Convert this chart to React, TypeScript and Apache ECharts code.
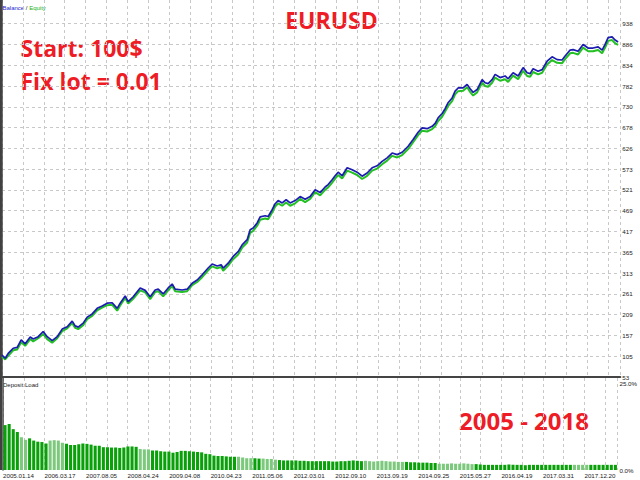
import React, { useEffect, useRef } from 'react';
import * as echarts from 'echarts';

// trade number (x) of each read point of the balance / equity curves
const trades = [
  0, 16, 31, 56, 76, 96, 116, 141, 156, 181,
  206, 226, 251, 276, 301, 326, 351, 366, 381, 406,
  426, 451, 476, 501, 526, 551, 576, 591, 616, 631,
  656, 691, 716, 741, 766, 781, 806, 831, 851, 866,
  901, 926, 951, 976, 1001, 1031, 1051, 1076, 1096, 1106,
  1131, 1156, 1181, 1201, 1226, 1241, 1256, 1276, 1291, 1316,
  1331, 1351, 1366, 1381, 1401, 1421, 1441, 1466, 1491, 1516,
  1541, 1566, 1591, 1616, 1631, 1651, 1666, 1681, 1701, 1726,
  1751, 1776, 1801, 1826, 1851, 1876, 1901, 1926, 1951, 1976,
  2001, 2031, 2056, 2081, 2101, 2126, 2151, 2166, 2181, 2201,
  2216, 2231, 2251, 2266, 2281, 2306, 2326, 2341, 2356, 2376,
  2401, 2416, 2431, 2451, 2466, 2491, 2516, 2531, 2556, 2581,
  2606, 2626, 2641, 2656, 2681, 2701, 2726, 2751, 2776, 2801,
  2816, 2841, 2856, 2881, 2906, 2931, 2956, 2981, 3001, 3016,
  3031, 3051, 3066, 3081,
];

const balance = [
  108, 100, 112, 125, 127, 146, 136, 153, 148, 154,
  167, 154, 144, 154, 173, 179, 193, 181, 178, 188,
  203, 211, 225, 231, 238, 239, 225, 238, 256, 242,
  254, 276, 270, 254, 271, 273, 261, 276, 286, 273,
  271, 273, 288, 296, 309, 326, 336, 331, 334, 326,
  338, 355, 367, 384, 397, 422, 426, 439, 454, 457,
  455, 472, 487, 495, 489, 497, 489, 495, 505, 498,
  505, 522, 515, 529, 535, 547, 557, 566, 557, 577,
  572, 566, 556, 564, 577, 582, 593, 602, 614, 610,
  616, 631, 648, 666, 677, 675, 681, 688, 702, 713,
  725, 740, 752, 769, 777, 777, 786, 775, 766, 773,
  798, 790, 788, 798, 811, 803, 807, 800, 815, 807,
  828, 815, 813, 825, 819, 823, 844, 855, 848, 847,
  857, 872, 873, 869, 886, 877, 877, 880, 872, 886,
  903, 905, 897, 892,
];

const equity = [
  104, 97, 106, 120, 122, 140, 131, 148, 142, 150,
  161, 148, 139, 150, 168, 175, 188, 176, 173, 183,
  198, 206, 220, 227, 233, 234, 219, 232, 251, 237,
  249, 270, 265, 248, 266, 268, 255, 270, 281, 268,
  266, 268, 283, 291, 303, 320, 330, 325, 329, 319,
  332, 348, 360, 377, 390, 414, 419, 432, 447, 450,
  448, 465, 480, 488, 482, 490, 482, 488, 499, 491,
  499, 516, 508, 522, 528, 540, 550, 559, 550, 570,
  565, 559, 549, 557, 570, 575, 586, 595, 607, 603,
  609, 624, 641, 659, 670, 668, 674, 681, 694, 705,
  718, 732, 744, 761, 769, 770, 779, 767, 758, 766,
  790, 782, 780, 790, 803, 795, 799, 792, 808, 799,
  820, 807, 805, 817, 811, 815, 836, 847, 840, 839,
  849, 864, 865, 861, 878, 869, 869, 872, 864, 878,
  895, 897, 889, 885,
];

// deposit load, % (one bar each)
const depositLoad = [
  12.2, 12.5, 11.1, 10.3, 8.9, 8.2, 8.6, 8.0, 7.7, 7.6,
  7.2, 8.0, 8.1, 8.0, 7.4, 7.1, 6.8, 6.8, 7.0, 7.2,
  7.1, 6.9, 6.6, 6.6, 6.2, 6.2, 6.1, 6.1, 6.0, 6.1,
  6.4, 6.4, 6.3, 5.7, 5.6, 5.6, 5.3, 5.3, 5.1, 5.0,
  5.0, 4.7, 4.9, 5.2, 5.2, 5.1, 5.0, 4.9, 4.8, 4.4,
  4.3, 3.9, 3.8, 3.8, 3.7, 3.6, 3.6, 3.6, 3.4, 3.2,
  3.2, 3.2, 3.1, 3.1, 3.0, 3.0, 2.8, 2.7, 2.6, 2.6,
  2.6, 2.6, 2.5, 2.5, 2.4, 2.4, 2.4, 2.4, 2.4, 2.4,
  2.3, 2.3, 2.4, 2.4, 2.5, 2.6, 2.5, 2.4, 2.5, 2.4,
  2.3, 2.4, 2.5, 2.4, 2.3, 2.3, 2.2, 2.2, 2.2, 2.1,
  2.1, 2.0, 2.0, 2.0, 1.9, 1.9, 1.7, 1.7, 1.7, 1.8,
  1.7, 1.7, 1.8, 1.7, 1.6, 1.6, 1.5, 1.4, 1.4, 1.4,
  1.4, 1.4, 1.4, 1.5, 1.4, 1.4, 1.4, 1.3, 1.4, 1.4,
  1.4, 1.4, 1.4, 1.4, 1.4, 1.4, 1.4, 1.4, 1.4, 1.4,
  1.4, 1.4, 1.4, 1.4, 1.4, 1.4, 1.4, 1.4, 1.4, 1.4,
];

const xLabels = [
  '2005.01.14', '2006.03.17', '2007.08.05', '2008.04.24', '2009.04.08',
  '2010.04.23', '2011.05.06', '2012.03.01', '2012.09.10', '2013.09.19',
  '2014.09.25', '2015.05.27', '2016.04.19', '2017.03.31', '2017.12.20',
];
const yLabels = [
  '53', '105', '157', '209', '261', '313', '365', '417', '469',
  '521', '573', '626', '678', '730', '782', '834', '886', '938',
];
const loadLabels = ['0.0%', '25.0%'];

const X_STEP = 104.5;
const X_MAX = 3092;
const Y_BASE = 53;
const Y_STEP = 885 / 17;
const Y_MAX = 18.14 * Y_STEP;
const LOAD_MAX = 25;

const RED = '#ee1c25';
const BLUE = '#1c1cb0';
const GREEN = '#22c022';
const GRID_C = '#c8c8c8';
const AXIS_C = '#444444';
const LABEL_FONT = 'Liberation Sans';

const lightRanges = [[4, 5], [11, 14], [33, 35], [57, 60], [63, 66], [88, 97], [106, 114], [139, 142]];

export default function App() {
  const ref = useRef<HTMLDivElement>(null);

  useEffect(() => {
    if (!ref.current) return;
    const chart = echarts.init(ref.current, null, { renderer: 'svg' });

    const eqData = trades.map((t, i) => [t, equity[i] - Y_BASE]);
    const balData = trades.map((t, i) => [t, balance[i] - Y_BASE]);

    const ySplitColors = yLabels.map(() => GRID_C).concat(['rgba(0,0,0,0)']);

    const xLabelFmt = (v: number) => {
      const k = v / X_STEP;
      const r = Math.round(k);
      if (Math.abs(k - r) > 0.01 || r % 2 !== 0) return '';
      return xLabels[r / 2] ?? '';
    };
    const yLabelFmt = (v: number) => {
      const k = v / Y_STEP;
      const r = Math.round(k);
      if (Math.abs(k - r) > 0.01) return '';
      return yLabels[r] ?? '';
    };

    const text = (t: string, x: number, y: number, size: number, align: string) => ({
      type: 'text',
      x,
      y,
      silent: true,
      style: {
        text: t,
        fill: RED,
        font: `bold ${size}px "Open Sans"`,
        textAlign: align,
        align,
        textVerticalAlign: 'middle',
        verticalAlign: 'middle',
      },
    });

    const option: any = {
      animation: false,
      backgroundColor: '#ffffff',
      grid: [
        { left: 2, right: 19.7, top: 0, height: 377, containLabel: false },
        { left: 2, right: 19.7, top: 378, height: 92, containLabel: false },
      ],
      xAxis: [
        {
          gridIndex: 0,
          type: 'value',
          min: 0,
          max: X_MAX,
          interval: X_STEP,
          axisLine: { show: true, onZero: false, lineStyle: { color: AXIS_C, width: 2 } },
          axisTick: { show: false },
          axisLabel: { show: false },
          splitLine: { show: true, lineStyle: { color: GRID_C, type: [3, 3], width: 1 } },
        },
        {
          gridIndex: 1,
          type: 'value',
          min: 0,
          max: X_MAX,
          interval: X_STEP,
          axisLine: { show: false },
          axisTick: { show: false },
          axisLabel: {
            show: true,
            formatter: xLabelFmt,
            align: 'left',
            verticalAlign: 'top',
            margin: 2,
            fontSize: 6.2,
            fontFamily: LABEL_FONT,
            color: '#222222',
            hideOverlap: false,
          },
          splitLine: { show: true, lineStyle: { color: GRID_C, type: [3, 3], width: 1 } },
        },
        {
          gridIndex: 1,
          type: 'category',
          data: depositLoad.map((_, i) => i),
          boundaryGap: true,
          show: false,
        },
      ],
      yAxis: [
        {
          gridIndex: 0,
          type: 'value',
          position: 'right',
          min: 0,
          max: Y_MAX,
          interval: Y_STEP,
          axisLine: { show: true, lineStyle: { color: AXIS_C, width: 1.5 } },
          axisTick: { show: false },
          axisLabel: {
            show: true,
            formatter: yLabelFmt,
            margin: 2,
            fontSize: 6.2,
            fontFamily: LABEL_FONT,
            color: '#222222',
            showMaxLabel: false,
          },
          splitLine: {
            show: true,
            showMaxLine: false,
            lineStyle: { color: ySplitColors, type: [3, 3], width: 1 },
          },
        },
        {
          gridIndex: 1,
          type: 'value',
          position: 'right',
          min: 0,
          max: LOAD_MAX,
          interval: LOAD_MAX,
          axisLine: { show: true, lineStyle: { color: AXIS_C, width: 1.5 } },
          axisTick: { show: false },
          axisLabel: {
            show: true,
            formatter: (v: number) => (v >= LOAD_MAX ? '\n' + loadLabels[1] : loadLabels[0]),
            margin: 2,
            fontSize: 6.2,
            lineHeight: 10,
            fontFamily: LABEL_FONT,
            color: '#222222',
          },
          splitLine: { show: false },
        },
      ],
      series: [
        {
          type: 'line',
          name: 'Equity',
          xAxisIndex: 0,
          yAxisIndex: 0,
          data: eqData,
          symbol: 'none',
          lineStyle: { color: GREEN, width: 2 },
          z: 2,
        },
        {
          type: 'line',
          name: 'Balance',
          xAxisIndex: 0,
          yAxisIndex: 0,
          data: balData,
          symbol: 'none',
          lineStyle: { color: BLUE, width: 1.7 },
          z: 3,
        },
        {
          type: 'bar',
          name: 'Deposit Load',
          xAxisIndex: 2,
          yAxisIndex: 1,
          data: depositLoad,
          barCategoryGap: '25%',
          itemStyle: {
            color: (p: any) =>
              lightRanges.some(([a, b]) => p.dataIndex >= a && p.dataIndex <= b) ? '#7cc87c' : '#0aa00a',
          },
        },
      ],
      graphic: [
        {
          type: 'line',
          silent: true,
          shape: { x1: 1, y1: 0, x2: 1, y2: 470 },
          style: { stroke: '#000000', lineWidth: 1.5 },
        },
        {
          type: 'text',
          x: 2.5,
          y: 7.5,
          silent: true,
          style: {
            text: '{b|Balance} / {e|Equity}',
            font: `6px "${LABEL_FONT}"`,
            fill: '#222222',
            textVerticalAlign: 'middle',
            verticalAlign: 'middle',
            rich: {
              b: { fill: '#1c1cd0', color: '#1c1cd0', fontSize: 6, fontFamily: LABEL_FONT },
              e: { fill: '#22b022', color: '#22b022', fontSize: 6, fontFamily: LABEL_FONT },
            },
          },
        },
        {
          type: 'text',
          x: 3,
          y: 384.5,
          silent: true,
          style: {
            text: 'Deposit Load',
            font: `6px "${LABEL_FONT}"`,
            fill: '#222222',
            textVerticalAlign: 'middle',
            verticalAlign: 'middle',
          },
        },
        text('EURUSD', 331.5, 20, 23, 'center'),
        text('Start: 100$', 20.5, 48.3, 23, 'left'),
        text('Fix lot = 0.01', 20.5, 81.4, 23, 'left'),
        text('2005 - 2018', 459, 420, 24, 'left'),
      ],
    };

    chart.setOption(option);
    return () => chart.dispose();
  }, []);

  return (
    <div
      ref={ref}
      style={{ position: 'absolute', left: 0, top: 0, width: 640, height: 480, background: '#fff' }}
    />
  );
}
